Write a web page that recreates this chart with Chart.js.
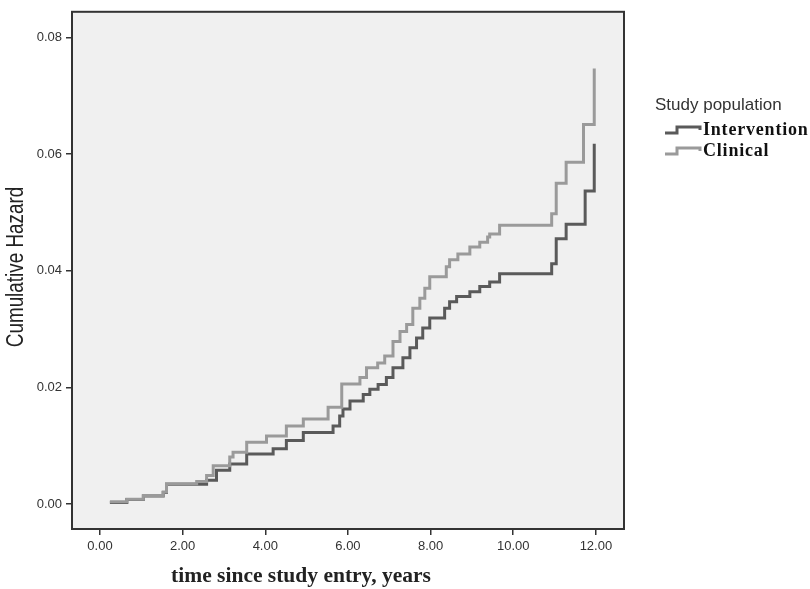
<!DOCTYPE html>
<html>
<head>
<meta charset="utf-8">
<title>Cumulative Hazard</title>
<script src="https://cdn.jsdelivr.net/npm/chart.js@4.4.1/dist/chart.umd.min.js"></script>
<style>
    html, body { margin: 0; padding: 0; background: #ffffff; }
    canvas { display: block; }
</style>
</head>
<body>
<canvas id="hazardChart" width="810" height="589"></canvas>
<script>
// Step data: time of each event (years) and cumulative hazard after it
const interventionTimes = [0.24, 0.65, 1.05, 1.53, 1.61, 2.58, 2.82, 3.14, 3.55, 4.19, 4.51, 4.92, 5.64, 5.80, 5.88, 6.05, 6.37, 6.53, 6.73, 6.93, 7.09, 7.33, 7.50, 7.66, 7.81, 7.98, 8.34, 8.46, 8.63, 8.95, 9.19, 9.43, 9.67, 10.93, 11.04, 11.28, 11.74, 11.96];
const interventionValues = [0.0003, 0.0008, 0.0014, 0.0020, 0.0034, 0.0041, 0.0058, 0.0069, 0.0086, 0.0095, 0.0109, 0.0123, 0.0134, 0.0151, 0.0163, 0.0177, 0.0188, 0.0197, 0.0205, 0.0217, 0.0234, 0.0251, 0.0268, 0.0285, 0.0302, 0.0319, 0.0336, 0.0347, 0.0356, 0.0364, 0.0373, 0.0381, 0.0395, 0.0412, 0.0455, 0.0480, 0.0537, 0.0618];

const clinicalTimes = [0.24, 0.65, 1.05, 1.53, 1.61, 2.34, 2.58, 2.74, 3.14, 3.22, 3.55, 4.03, 4.51, 4.92, 5.52, 5.85, 6.29, 6.45, 6.72, 6.89, 7.09, 7.26, 7.42, 7.57, 7.74, 7.86, 7.98, 8.38, 8.46, 8.66, 8.95, 9.19, 9.38, 9.43, 9.67, 10.93, 11.04, 11.28, 11.70, 11.96];
const clinicalValues = [0.0004, 0.00085, 0.0015, 0.0021, 0.0035, 0.0039, 0.0049, 0.0066, 0.0081, 0.0089, 0.0106, 0.0117, 0.0134, 0.0146, 0.0166, 0.0206, 0.0217, 0.0234, 0.0242, 0.0254, 0.0279, 0.0296, 0.0308, 0.0336, 0.0353, 0.0370, 0.0390, 0.0407, 0.0419, 0.0429, 0.0441, 0.0449, 0.0458, 0.0463, 0.0478, 0.0498, 0.0550, 0.0586, 0.0651, 0.0747];

const xTicks = [0, 2, 4, 6, 8, 10, 12];
const yTicks = [0, 0.02, 0.04, 0.06, 0.08];

const seriesLabels = ['Intervention', 'Clinical'];
const seriesColors = ['#5a5a5a', '#9a9a9a'];

const toPoints = (times, values) => times.map((t, i) => ({ x: t, y: values[i] }));

// plot background, frame, axis titles and the legend box
const framePlugin = {
    id: 'frame',
    beforeDraw(chart) {
        const { ctx, chartArea: a } = chart;
        ctx.save();
        ctx.fillStyle = '#f0f0f0';
        ctx.fillRect(a.left, a.top, a.right - a.left, a.bottom - a.top);
        ctx.restore();
    },
    afterDatasetsDraw(chart) {
        const { ctx, chartArea: a } = chart;
        ctx.save();
        ctx.strokeStyle = '#333333';
        ctx.lineWidth = 2;
        ctx.strokeRect(a.left, a.top, a.right - a.left, a.bottom - a.top);
        ctx.restore();
    },
    afterDraw(chart) {
        const ctx = chart.ctx;
        ctx.save();

        // y axis title, squeezed along its length like a narrow face
        ctx.fillStyle = '#222222';
        ctx.font = '23px "Liberation Sans", Arial, sans-serif';
        ctx.textAlign = 'center';
        ctx.textBaseline = 'middle';
        ctx.translate(17, 267);
        ctx.rotate(-Math.PI / 2);
        ctx.scale(0.82, 1);
        ctx.fillText('Cumulative Hazard', 0, 0);
        ctx.setTransform(1, 0, 0, 1, 0, 0);

        // x axis title
        ctx.font = 'bold 21.5px "Liberation Serif", "Times New Roman", serif';
        ctx.fillText('time since study entry, years', 301, 576);

        // legend
        ctx.textAlign = 'left';
        ctx.fillStyle = '#333333';
        ctx.font = '17px "Liberation Sans", Arial, sans-serif';
        ctx.fillText('Study population', 655, 105);

        ctx.font = 'bold 18px "Liberation Serif", "Times New Roman", serif';
        ctx.letterSpacing = '0.8px';
        const rows = [130, 151];
        seriesLabels.forEach((label, i) => {
            const y = rows[i];
            ctx.strokeStyle = seriesColors[i];
            ctx.lineWidth = 3;
            ctx.beginPath();
            ctx.moveTo(665, y + 3);
            ctx.lineTo(677, y + 3);
            ctx.lineTo(677, y - 3);
            ctx.lineTo(700, y - 3);
            ctx.lineTo(700, y);
            ctx.stroke();
            ctx.fillStyle = '#111111';
            ctx.fillText(label, 703, y);
        });
        ctx.restore();
    }
};

const ctx = document.getElementById('hazardChart').getContext('2d');

new Chart(ctx, {
    type: 'line',
    data: {
        datasets: [
            {
                label: seriesLabels[1],
                data: toPoints(clinicalTimes, clinicalValues),
                borderColor: seriesColors[1],
                borderWidth: 3,
                stepped: true,
                pointRadius: 0,
                fill: false
            },
            {
                label: seriesLabels[0],
                data: toPoints(interventionTimes, interventionValues),
                borderColor: seriesColors[0],
                borderWidth: 3,
                stepped: true,
                pointRadius: 0,
                fill: false
            }
        ]
    },
    options: {
        responsive: false,
        animation: false,
        layout: {
            padding: { left: 0, top: 8, right: 186, bottom: 0 }
        },
        scales: {
            x: {
                type: 'linear',
                min: -0.677,
                max: 12.68,
                afterBuildTicks: scale => { scale.ticks = xTicks.map(v => ({ value: v })); },
                afterFit: scale => { scale.height = 60; },
                border: { display: false },
                grid: {
                    drawOnChartArea: false,
                    drawTicks: true,
                    tickLength: 6,
                    color: '#333333',
                    lineWidth: 1.5
                },
                ticks: {
                    color: '#333333',
                    padding: 4,
                    maxRotation: 0,
                    font: { family: '"Liberation Sans", Arial, sans-serif', size: 13 },
                    callback: value => value.toFixed(2)
                }
            },
            y: {
                min: -0.00426,
                max: 0.0844,
                afterBuildTicks: scale => { scale.ticks = yTicks.map(v => ({ value: v })); },
                afterFit: scale => { scale.width = 72; },
                border: { display: false },
                grid: {
                    drawOnChartArea: false,
                    drawTicks: true,
                    tickLength: 6,
                    color: '#333333',
                    lineWidth: 1.5
                },
                ticks: {
                    color: '#333333',
                    padding: 4,
                    font: { family: '"Liberation Sans", Arial, sans-serif', size: 13 },
                    callback: value => value.toFixed(2)
                }
            }
        },
        plugins: {
            legend: { display: false },
            tooltip: { enabled: false }
        }
    },
    plugins: [framePlugin]
});
</script>
</body>
</html>
